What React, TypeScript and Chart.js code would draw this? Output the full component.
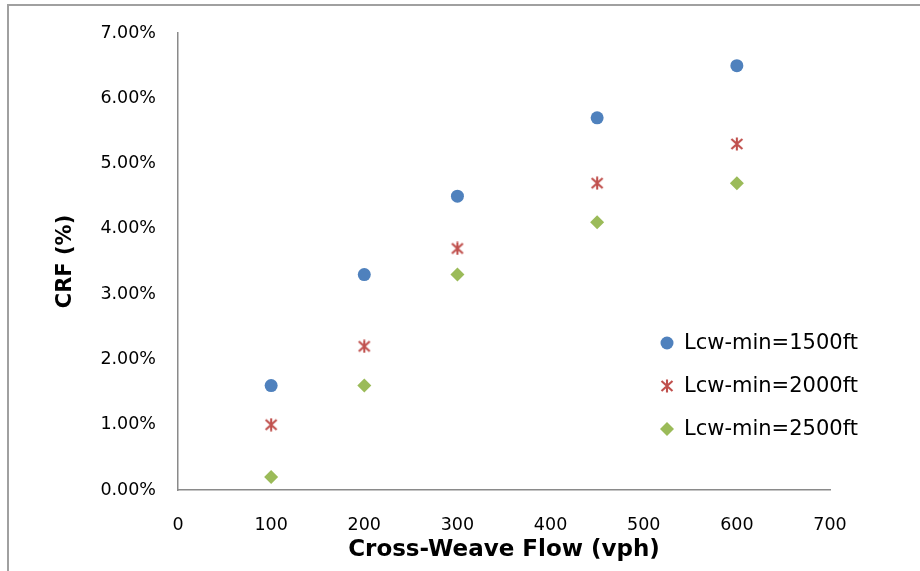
import React, { useEffect, useRef } from 'react';
import { Chart, registerables } from 'chart.js';

Chart.register(...registerables);

// ---- data ----
const flowValues = [100, 200, 300, 450, 600];
const crf1500 = [1.6, 3.3, 4.5, 5.7, 6.5];
const crf2000 = [1.0, 2.2, 3.7, 4.7, 5.3];
const crf2500 = [0.2, 1.6, 3.3, 4.1, 4.7];
const seriesLabels = ['Lcw-min=1500ft', 'Lcw-min=2000ft', 'Lcw-min=2500ft'];
const xAxisTitle = 'Cross-Weave Flow (vph)';
const yAxisTitle = 'CRF (%)';
const xMin = 0;
const xMax = 700;
const xStep = 100;
const yMin = 0;
const yMax = 7;
const yStep = 1;

const BLUE = '#4f81bd';
const RED = '#c0504d';
const GREEN = '#9bbb59';
const FONT = "'DejaVu Sans', sans-serif";

function makeStar(color: string) {
  const c = document.createElement('canvas');
  c.width = 14;
  c.height = 14;
  const g = c.getContext('2d')!;
  g.strokeStyle = color;
  g.lineWidth = 2.1;
  g.lineCap = 'butt';
  g.beginPath();
  g.moveTo(1.5, 2);
  g.lineTo(12.5, 12);
  g.moveTo(12.5, 2);
  g.lineTo(1.5, 12);
  g.moveTo(7, 0.5);
  g.lineTo(7, 13.5);
  g.stroke();
  return c;
}

function drawMarker(ctx: CanvasRenderingContext2D, style: any, color: string, r: number, x: number, y: number) {
  ctx.save();
  ctx.fillStyle = color;
  if (style instanceof HTMLCanvasElement) {
    ctx.drawImage(style, x - style.width / 2, y - style.height / 2);
  } else if (style === 'circle') {
    ctx.beginPath();
    ctx.arc(x, y, r, 0, Math.PI * 2);
    ctx.fill();
  } else if (style === 'rectRot') {
    ctx.beginPath();
    ctx.moveTo(x - r, y);
    ctx.lineTo(x, y - r);
    ctx.lineTo(x + r, y);
    ctx.lineTo(x, y + r);
    ctx.closePath();
    ctx.fill();
  }
  ctx.restore();
}

const legendPlugin = {
  id: 'customLegend',
  afterDraw(chart: any) {
    const ctx = chart.ctx as CanvasRenderingContext2D;
    const rows = [343, 386, 429];
    chart.data.datasets.forEach((ds: any, i: number) => {
      const y = rows[i];
      drawMarker(ctx, ds.pointStyle, ds.backgroundColor, ds.pointRadius, 667, y);
      ctx.save();
      ctx.fillStyle = '#000';
      ctx.font = `21px ${FONT}`;
      ctx.textAlign = 'left';
      ctx.textBaseline = 'middle';
      ctx.fillText(ds.label, 684, y + 1);
      ctx.restore();
    });
  },
};

export default function App() {
  const ref = useRef<HTMLCanvasElement | null>(null);

  useEffect(() => {
    if (!ref.current) return;
    const star = makeStar(RED);
    const mk = (vals: number[]) => flowValues.map((x, i) => ({ x, y: vals[i] }));
    const chart = new Chart(ref.current, {
      type: 'scatter',
      data: {
        datasets: [
          {
            label: seriesLabels[0],
            data: mk(crf1500),
            pointStyle: 'circle',
            pointRadius: 6.5,
            pointHoverRadius: 6.5,
            backgroundColor: BLUE,
            borderColor: BLUE,
            borderWidth: 0,
          },
          {
            label: seriesLabels[1],
            data: mk(crf2000),
            pointStyle: star as any,
            pointRadius: 6,
            backgroundColor: RED,
            borderColor: RED,
            borderWidth: 0,
          },
          {
            label: seriesLabels[2],
            data: mk(crf2500),
            pointStyle: 'rectRot',
            pointRadius: 7,
            pointHoverRadius: 7,
            backgroundColor: GREEN,
            borderColor: GREEN,
            borderWidth: 0,
          },
        ] as any,
      },
      options: {
        animation: false,
        responsive: false,
        layout: { padding: { top: 33, right: 90, left: 0, bottom: 0 } },
        plugins: {
          legend: { display: false },
          tooltip: { enabled: false },
        },
        scales: {
          x: {
            type: 'linear',
            min: xMin,
            max: xMax,
            grid: { display: false, drawTicks: false },
            border: { display: true, color: '#8a8a8a', width: 1.5 },
            ticks: {
              stepSize: xStep,
              color: '#000',
              padding: 25,
              font: { family: FONT, size: 17.5 },
              maxRotation: 0,
            },
            title: {
              display: true,
              text: xAxisTitle,
              color: '#000',
              font: { family: FONT, size: 23, weight: 'bold' },
              padding: { top: 0, bottom: 7 },
            },
            afterFit(scale: any) {
              scale.height = 81;
            },
          },
          y: {
            type: 'linear',
            min: yMin,
            max: yMax,
            grid: { display: false, drawTicks: false },
            border: { display: true, color: '#8a8a8a', width: 1.5 },
            ticks: {
              stepSize: yStep,
              color: '#000',
              padding: 22,
              font: { family: FONT, size: 17.5 },
              callback: (v: any) => Number(v).toFixed(2) + '%',
            },
            title: {
              display: true,
              text: yAxisTitle,
              color: '#000',
              font: { family: FONT, size: 21, weight: 'bold' },
              padding: { top: 53, bottom: 0 },
            },
            afterFit(scale: any) {
              scale.width = 178;
            },
          },
        },
      } as any,
      plugins: [legendPlugin],
    });
    return () => chart.destroy();
  }, []);

  return (
    <div style={{ position: 'absolute', left: 0, top: 0, width: 920, height: 571, background: '#fff', overflow: 'hidden' }}>
      <canvas ref={ref} width={920} height={571} style={{ position: 'absolute', left: 0, top: 0, width: 920, height: 571 }} />
      <div
        style={{
          position: 'absolute',
          left: 7,
          top: 4,
          width: 940,
          height: 600,
          borderTop: '2px solid #a0a0a0',
          borderLeft: '2px solid #a0a0a0',
          pointerEvents: 'none',
        }}
      />
    </div>
  );
}
